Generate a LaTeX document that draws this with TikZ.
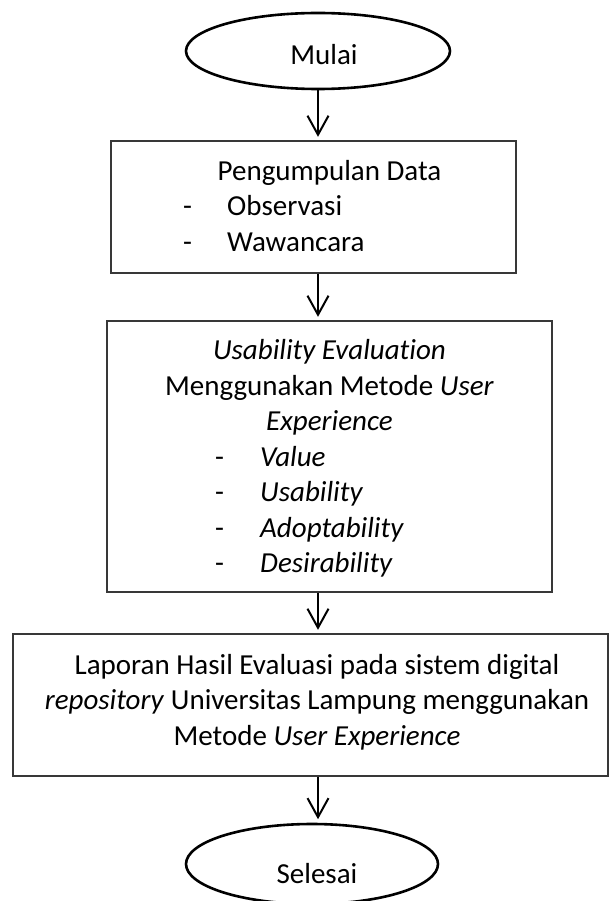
\documentclass[tikz,border=0pt]{standalone}
\usepackage{fontspec}
\setmainfont{Carlito}[Ligatures=NoCommon]
\usepackage{tikz}
\usetikzlibrary{arrows.meta}
\usetikzlibrary{shapes.geometric}

\begin{document}
\begin{tikzpicture}[x=1pt,y=-1pt,
	font=\fontsize{29}{35.5}\selectfont,
	terminal/.style={ellipse,draw=black,line width=2.6pt,minimum width=264pt,minimum height=76pt,inner sep=0pt},
	kotak/.style={rectangle,draw=black!78,line width=1.4pt,inner sep=0pt},
	teks/.style={inner sep=0pt,anchor=base},
	butir/.style={inner sep=0pt,anchor=base west},
	panah/.style={-{Straight Barb[length=19pt,width=21pt]},line width=2pt,shorten >=3.5pt}]
		\useasboundingbox (0,0) rectangle (609,901);

		\coordinate (M) at (318,51);
		\coordinate (D) at (313.5,207);
		\coordinate (E) at (329.5,456.5);
		\coordinate (L) at (310.5,705);
		\coordinate (S) at (312,864);

		% terminal atas
		\node[terminal] (mulai) at (M) {};
		\node[teks] (tmulai) at (324,65) {Mulai};

		% pengumpulan data
		\node[kotak,minimum width=405pt,minimum height=132pt] (data) at (D) {};
		\node[teks] (tdata) at (329.5,180.5) {Pengumpulan Data};
		\node[butir] (s1) at (183,216) {-};
		\node[butir] (obs) at (227,216) {Observasi};
		\node[butir] (s2) at (183,251.5) {-};
		\node[butir] (waw) at (227,251.5) {Wawancara};

		% evaluasi
		\node[kotak,minimum width=445pt,minimum height=271pt] (eval) at (E) {};
		\node[teks] (te1) at (329.5,359.5) {\textit{Usability Evaluation}};
		\node[teks] (te2) at (329.5,395) {Menggunakan Metode \textit{User}};
		\node[teks] (te3) at (329.5,430.5) {\textit{Experience}};
		\node[butir] (s3) at (215,466) {-};
		\node[butir] (val) at (260,466) {\textit{Value}};
		\node[butir] (s4) at (215,501.5) {-};
		\node[butir] (usa) at (260,501.5) {\textit{Usability}};
		\node[butir] (s5) at (215,537) {-};
		\node[butir] (ado) at (260,537) {\textit{Adoptability}};
		\node[butir] (s6) at (215,572.5) {-};
		\node[butir] (des) at (260,572.5) {\textit{Desirability}};

		% laporan
		\node[kotak,minimum width=595pt,minimum height=142pt] (lapor) at (L) {};
		\node[teks] (tl1) at (317,674) {Laporan Hasil Evaluasi pada sistem digital};
		\node[teks] (tl2) at (317,709.5) {\textit{repository} Universitas Lampung menggunakan};
		\node[teks] (tl3) at (317,745) {Metode \textit{User Experience}};

		% terminal bawah
		\node[terminal,minimum width=252pt,minimum height=80pt] (selesai) at (S) {};
		\node[teks] (tselesai) at (317,883) {Selesai};

		\draw[panah] (mulai.south) -- (mulai.south |- data.north);
		\draw[panah] (data.south -| mulai.center) -- (eval.north -| mulai.center);
		\draw[panah] (eval.south -| mulai.center) -- (lapor.north -| mulai.center);
		\draw[panah] (lapor.south -| mulai.center) -- (selesai.north -| mulai.center);
\end{tikzpicture}
\end{document}
